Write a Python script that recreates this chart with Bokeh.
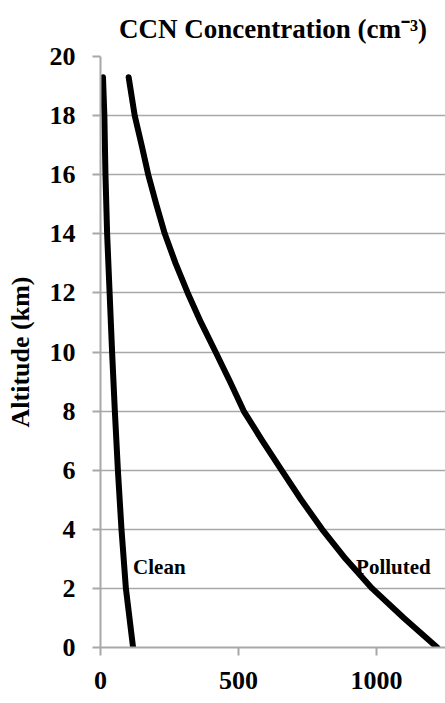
from bokeh.plotting import figure
from bokeh.models import FixedTicker, Label, Title
from bokeh.embed import file_html
from bokeh.resources import INLINE

# Data (altitude km, CCN concentration cm^-3)
clean_alt = [19.3, 18, 16, 14, 12, 10, 8, 6, 4, 2, 0]
clean_ccn = [9, 14, 18, 24, 33, 42, 52, 63, 76, 92, 118]

polluted_alt = [19.3, 18, 17, 16, 15, 14, 13, 12, 11, 10, 9, 8, 7, 6, 5, 4, 3, 2, 1, 0]
polluted_ccn = [102, 124, 149, 173, 202, 233, 272, 316, 364, 417, 469, 519, 586, 656, 727, 803, 888, 984, 1099, 1220]

x_ticks = [0, 500, 1000]
y_ticks = [0, 2, 4, 6, 8, 10, 12, 14, 16, 18, 20]

TITLE = "CCN Concentration (cm\u207b\u00b3)"

FONT = "'Liberation Serif'"
GRAY = "#a8a8a8"

p = figure(width=445, height=703, output_backend="svg", toolbar_location=None,
           x_range=(0, 1250), y_range=(0, 20),
           min_border_left=100, min_border_right=0, min_border_top=56, min_border_bottom=56)

# spacer between frame and title, then the title itself (stacked outward)
p.add_layout(Title(text=" ", text_font_size="10px", standoff=0), "above")
p.add_layout(Title(text=TITLE, text_font=FONT, text_font_style="bold", text_font_size="27px",
                   text_color="black", align="center", offset=9, standoff=0), "above")

p.outline_line_color = None
p.background_fill_color = "white"

p.xgrid.grid_line_color = None
p.ygrid.grid_line_color = GRAY
p.ygrid.grid_line_width = 1.3

for ax in (p.xaxis, p.yaxis):
    ax.axis_line_color = GRAY
    ax.axis_line_width = 2
    ax.major_tick_line_color = GRAY
    ax.major_tick_line_width = 2
    ax.major_tick_out = 8
    ax.major_tick_in = 0
    ax.minor_tick_line_color = None
    ax.major_label_text_font = FONT
    ax.major_label_text_font_style = "bold"
    ax.major_label_text_font_size = "26px"
    ax.major_label_text_color = "black"

p.xaxis.ticker = FixedTicker(ticks=x_ticks)
p.yaxis.ticker = FixedTicker(ticks=y_ticks)
p.xaxis.major_label_standoff = 16
p.yaxis.major_label_standoff = 17

p.yaxis.axis_label = "Altitude (km)"
p.yaxis.axis_label_text_font = FONT
p.yaxis.axis_label_text_font_style = "bold"
p.yaxis.axis_label_text_font_size = "26px"
p.yaxis.axis_label_text_color = "black"
p.yaxis.axis_label_standoff = 12

p.line(clean_ccn, clean_alt, line_color="black", line_width=6, line_cap="round", line_join="round")
p.line(polluted_ccn, polluted_alt, line_color="black", line_width=6, line_cap="round", line_join="round")

for txt, lx in (("Clean", 118), ("Polluted", 926)):
    p.add_layout(Label(x=lx, y=2.72, text=txt, text_font=FONT, text_font_style="bold",
                       text_font_size="21px", text_color="black", text_baseline="alphabetic"))

open("out.html", "w").write(file_html(p, INLINE))
